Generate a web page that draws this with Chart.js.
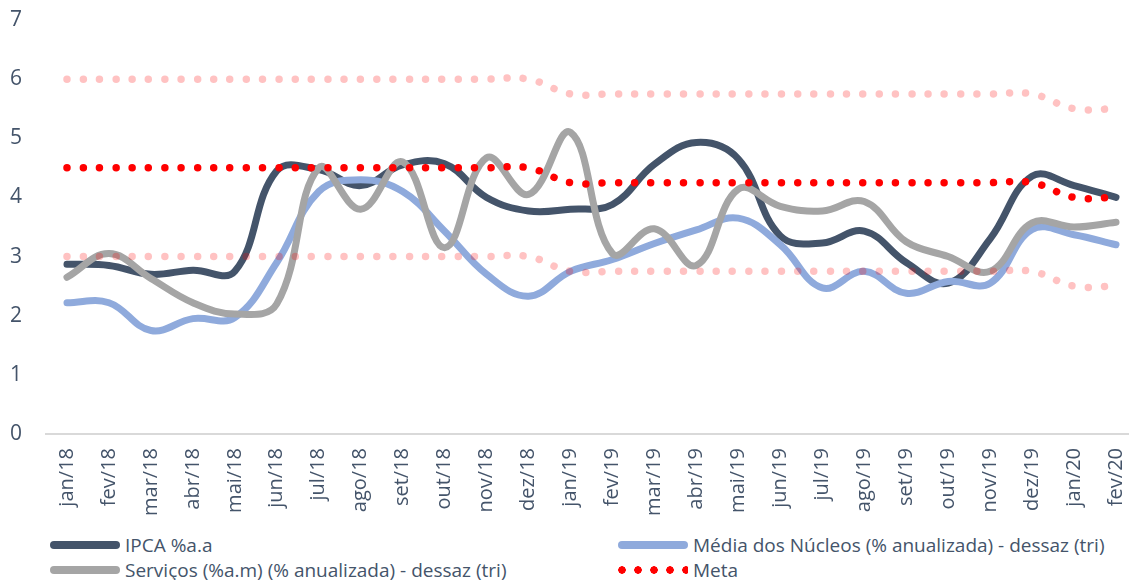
<!DOCTYPE html>
<html>
<head>
<meta charset="utf-8">
<script src="https://cdn.jsdelivr.net/npm/chart.js@4"></script>
<style>
  body { margin: 0; background: #fff; overflow: hidden; }
  #wrap { position: relative; width: 1129px; height: 580px; overflow: hidden; }
  /* slightly wider than the window: the last category band runs past the right edge, as in the source */
  #chartBox { position: absolute; left: 0; top: 0; width: 1137px; height: 530px; }
  .legend { position: absolute; font-family: "Open Sans", sans-serif; font-size: 19px; color: #44546A; white-space: nowrap; }
  .legend .item { position: absolute; display: flex; align-items: center; }
  .legend .swatch { width: 70px; height: 8px; border-radius: 4px; margin-right: 5px; }
  .legend .dots { width: 70px; height: 8px; margin-right: 5px;
    background-image: radial-gradient(circle, #FF0000 3.5px, transparent 4px);
    background-size: 16px 8px; background-position: -4px 0; }
</style>
</head>
<body>
<div id="wrap">
  <div id="chartBox"><canvas id="inflationChart"></canvas></div>
  <div class="legend">
    <div class="item" style="left:50px; top:532px;"><span class="swatch" style="background:#44546A"></span>IPCA %a.a</div>
    <div class="item" style="left:618px; top:532px;"><span class="swatch" style="background:#8FAADC"></span>Média dos Núcleos (% anualizada) - dessaz (tri)</div>
    <div class="item" style="left:50px; top:557px;"><span class="swatch" style="background:#A5A5A5"></span>Serviços (%a.m) (% anualizada) - dessaz (tri)</div>
    <div class="item" style="left:618px; top:557px;"><span class="dots"></span>Meta</div>
  </div>
</div>
<script>
const months = ['jan/18', 'fev/18', 'mar/18', 'abr/18', 'mai/18', 'jun/18', 'jul/18', 'ago/18', 'set/18', 'out/18', 'nov/18', 'dez/18',
    'jan/19', 'fev/19', 'mar/19', 'abr/19', 'mai/19', 'jun/19', 'jul/19', 'ago/19', 'set/19', 'out/19', 'nov/19', 'dez/19',
    'jan/20', 'fev/20'];

const ipca = [2.87, 2.85, 2.70, 2.77, 2.75, 4.45, 4.47, 4.20, 4.55, 4.57, 4.00, 3.77,
    3.80, 3.88, 4.56, 4.93, 4.65, 3.35, 3.23, 3.43, 2.90, 2.55, 3.30, 4.36, 4.20, 4.00];
const mediaNucleos = [2.22, 2.22, 1.75, 1.95, 1.97, 2.90, 4.10, 4.30, 4.10, 3.43, 2.70, 2.33,
    2.75, 2.95, 3.22, 3.45, 3.65, 3.20, 2.47, 2.75, 2.38, 2.58, 2.55, 3.46, 3.37, 3.20];
const servicos = [2.65, 3.05, 2.63, 2.22, 2.03, 2.20, 4.50, 3.80, 4.60, 3.15, 4.67, 4.05,
    5.10, 3.05, 3.47, 2.85, 4.14, 3.85, 3.77, 3.93, 3.25, 3.00, 2.75, 3.57, 3.50, 3.58];
const meta = [4.5, 4.5, 4.5, 4.5, 4.5, 4.5, 4.5, 4.5, 4.5, 4.5, 4.5, 4.5,
    4.25, 4.25, 4.25, 4.25, 4.25, 4.25, 4.25, 4.25, 4.25, 4.25, 4.25, 4.25, 4.0, 4.0];
const metaSup = [6, 6, 6, 6, 6, 6, 6, 6, 6, 6, 6, 6,
    5.75, 5.75, 5.75, 5.75, 5.75, 5.75, 5.75, 5.75, 5.75, 5.75, 5.75, 5.75, 5.5, 5.5];
const metaInf = [3, 3, 3, 3, 3, 3, 3, 3, 3, 3, 3, 3,
    2.75, 2.75, 2.75, 2.75, 2.75, 2.75, 2.75, 2.75, 2.75, 2.75, 2.75, 2.75, 2.5, 2.5];
const yTicks = [0, 1, 2, 3, 4, 5, 6, 7];

const TEXT_COLOR = '#44546A';

// solid smoothed series
function solidLine(label, data, color, order) {
    return {
        label: label,
        data: data,
        borderColor: color,
        borderWidth: 7,
        borderCapStyle: 'round',
        tension: 0.4,
        pointRadius: 0,
        fill: false,
        order: order
    };
}

// dotted series (round caps on zero length dashes)
function dottedLine(label, data, color, order) {
    return {
        label: label,
        data: data,
        borderColor: color,
        borderWidth: 7.5,
        borderCapStyle: 'round',
        borderDash: [0.001, 16.3],
        tension: 0.4,
        pointRadius: 0,
        fill: false,
        order: order
    };
}

const ctx = document.getElementById('inflationChart').getContext('2d');
new Chart(ctx, {
    type: 'line',
    data: {
        labels: months,
        datasets: [
            solidLine('IPCA %a.a', ipca, '#44546A', 6),
            solidLine('Média dos Núcleos (% anualizada) - dessaz (tri)', mediaNucleos, '#8FAADC', 5),
            solidLine('Serviços (%a.m) (% anualizada) - dessaz (tri)', servicos, '#A5A5A5', 4),
            dottedLine('Meta', meta, '#FF0000', 3),
            dottedLine('Teto', metaSup, 'rgba(255, 0, 0, 0.24)', 2),
            dottedLine('Piso', metaInf, 'rgba(255, 0, 0, 0.24)', 1)
        ]
    },
    options: {
        responsive: true,
        maintainAspectRatio: false,
        animation: false,
        layout: { padding: { left: 10, top: 20, right: 0, bottom: 0 } },
        plugins: {
            legend: { display: false },
            tooltip: { enabled: false }
        },
        scales: {
            x: {
                offset: true,
                grid: { display: false, drawTicks: false },
                border: { display: true, color: '#D9D9D9', width: 2 },
                ticks: {
                    color: TEXT_COLOR,
                    font: { family: 'Open Sans', size: 20 },
                    minRotation: 90,
                    maxRotation: 90,
                    padding: 14,
                    autoSkip: false
                },
                afterFit: scale => { scale.paddingLeft = 0; scale.paddingRight = 0; }
            },
            y: {
                min: 0,
                max: 7,
                afterBuildTicks: scale => { scale.ticks = yTicks.map(v => ({ value: v })); },
                grid: { display: false, drawTicks: false },
                border: { display: false },
                ticks: {
                    color: TEXT_COLOR,
                    font: { family: 'Open Sans', size: 21 },
                    padding: 24
                },
                afterFit: scale => { scale.width = 36; scale.paddingTop = 0; scale.paddingBottom = 0; }
            }
        }
    }
});
</script>
</body>
</html>
